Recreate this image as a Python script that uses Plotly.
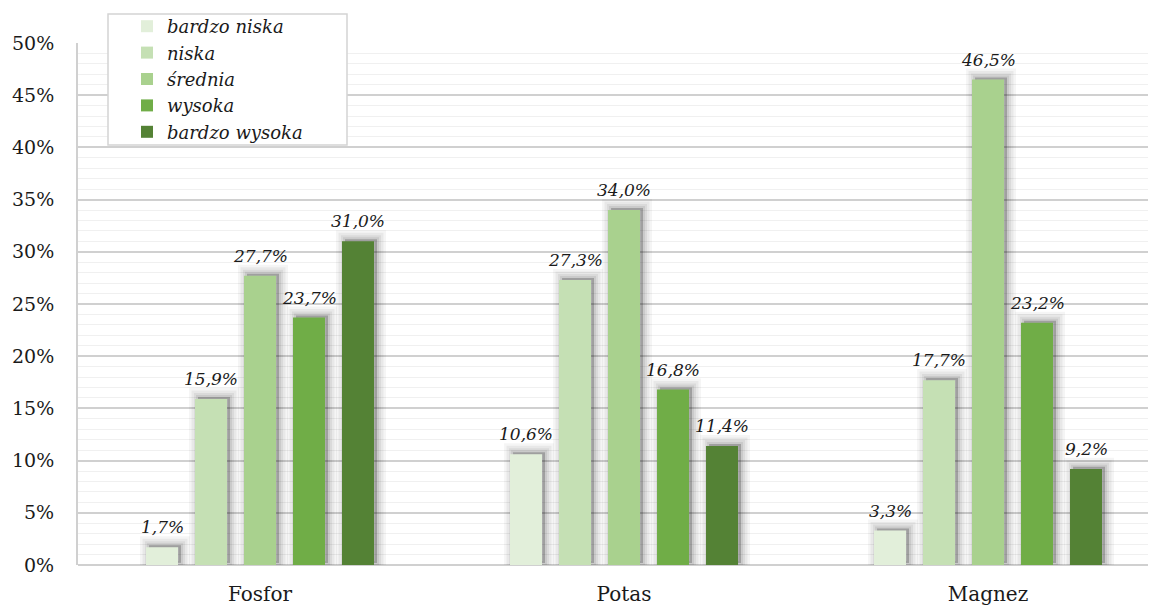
import plotly.graph_objects as go

categories = ["Fosfor", "Potas", "Magnez"]
series_names = ["bardzo niska", "niska", "średnia", "wysoka", "bardzo wysoka"]
values = {
    "bardzo niska": [1.7, 10.6, 3.3],
    "niska": [15.9, 27.3, 17.7],
    "średnia": [27.7, 34.0, 46.5],
    "wysoka": [23.7, 16.8, 23.2],
    "bardzo wysoka": [31.0, 11.4, 9.2],
}
colors = ["#E2EFDA", "#C5E0B4", "#A9D18E", "#70AD47", "#548235"]
y_ticks = [0, 5, 10, 15, 20, 25, 30, 35, 40, 45, 50]
y_ticktext = [f"{t}%" for t in y_ticks]

FONT = "DejaVu Serif"
cat_px = 364.0
step = 49.0 / cat_px
bw = 32.0 / cat_px
shadow_dx = 3.0 / cat_px
n = len(series_names)
xs = list(range(len(categories)))

fig = go.Figure()

# soft shadows on a slightly shifted overlay axis (drawn below the bars)
for i, name in enumerate(series_names):
    off = (i - (n - 1) / 2) * step - bw / 2
    for lw, a in [(18, 0.04), (13, 0.05), (8, 0.06), (4, 0.07)]:
        fig.add_trace(go.Bar(
            x=xs, y=values[name], width=bw, offset=off + shadow_dx, yaxis="y2",
            marker=dict(color=f"rgba(0,0,0,{a})",
                        line=dict(color=f"rgba(0,0,0,{a})", width=lw)),
            showlegend=False, hoverinfo="skip",
        ))

for i, name in enumerate(series_names):
    off = (i - (n - 1) / 2) * step - bw / 2
    fig.add_trace(go.Bar(
        x=xs, y=values[name], width=bw, offset=off, name=name, yaxis="y3",
        marker=dict(color=colors[i], line=dict(width=0)),
    ))
    for j, v in enumerate(values[name]):
        fig.add_annotation(
            x=j + (i - (n - 1) / 2) * step, y=v, xref="x", yref="y",
            text=f"{v:.1f}".replace(".", ",") + "%",
            showarrow=False, yanchor="bottom", yshift=8,
            font=dict(family=FONT, size=17, color="#1a1a1a", style="italic"),
        )

# legend frame
fig.add_shape(type="rect", xref="paper", yref="paper",
              x0=(108 - 78) / 1078, x1=(347 - 78) / 1078,
              y0=(565 - 145) / 522, y1=(565 - 14) / 522,
              line=dict(color="#D4D4D4", width=1.5), fillcolor="white",
              layer="above")

# page body has an 8px margin: plot area placed so it lands at x 78..1156, y 43..565 on screen
fig.update_layout(
    width=1156, height=605,
    margin=dict(l=70, r=8, t=35, b=48, autoexpand=False),
    paper_bgcolor="white", plot_bgcolor="white",
    barmode="overlay",
    showlegend=True,
    legend=dict(x=(127 - 78) / 1078, y=1 + (43 - 8) / 522, xanchor="left", yanchor="top",
                bgcolor="rgba(0,0,0,0)", borderwidth=0,
                font=dict(family=FONT, size=18, color="#1a1a1a", style="italic"),
                tracegroupgap=0, itemwidth=30),
    xaxis=dict(range=[-0.5, 2.4615], tickvals=xs, ticktext=categories,
               showgrid=False, zeroline=False, showline=False, automargin=False,
               ticks="outside", ticklen=11, tickcolor="rgba(0,0,0,0)",
               tickfont=dict(family=FONT, size=20, color="#1a1a1a")),
    yaxis=dict(range=[0, 50], tickvals=y_ticks, ticktext=y_ticktext,
               showgrid=True, gridcolor="#D0D0D0", gridwidth=1.5, automargin=False,
               minor=dict(dtick=1, showgrid=True, gridcolor="#F0F0F0", gridwidth=1),
               zeroline=True, zerolinecolor="#D0D0D0", zerolinewidth=2,
               showline=True, linecolor="#D0D0D0", linewidth=2,
               ticks="outside", ticklen=18, tickcolor="rgba(0,0,0,0)",
               tickfont=dict(family=FONT, size=19, color="#1a1a1a")),
    yaxis2=dict(overlaying="y", range=[-0.2, 49.8], visible=False,
                showgrid=False, zeroline=False, automargin=False),
    yaxis3=dict(overlaying="y", range=[0, 50], visible=False,
                showgrid=False, zeroline=False, automargin=False),
)

fig.write_html("out.html")
